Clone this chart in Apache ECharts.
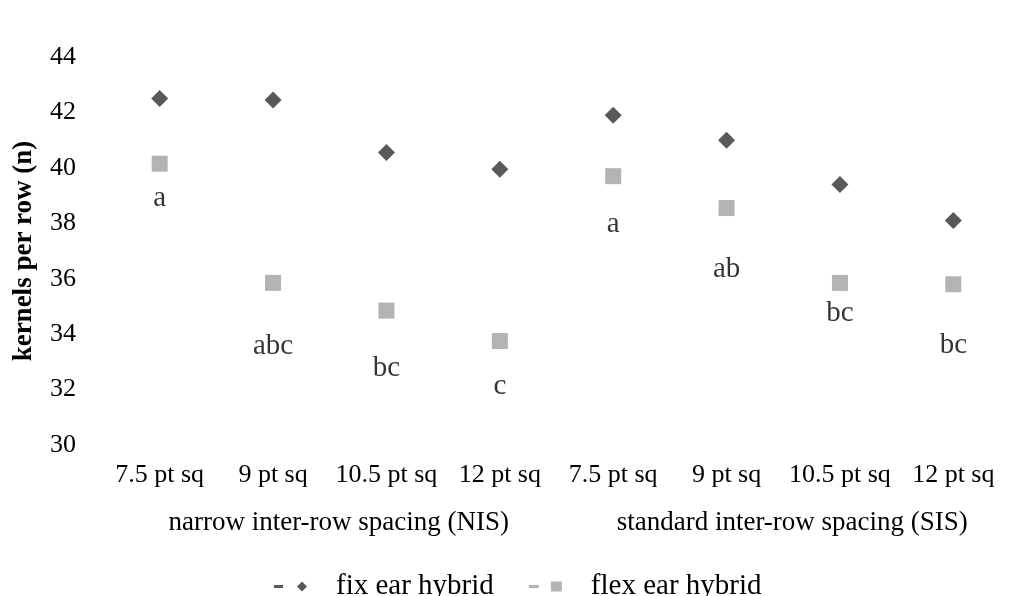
<!DOCTYPE html>
<html>
<head>
<meta charset="utf-8">
<script src="https://cdn.jsdelivr.net/npm/echarts@6/dist/echarts.min.js"></script>
<style>html,body{margin:0;padding:0;background:#fff;}#c{width:1010px;height:596px;}</style>
</head>
<body>
<div id="c"></div>
<script>
// ---- data ----
const categories = ['7.5 pt sq','9 pt sq','10.5 pt sq','12 pt sq','7.5 pt sq','9 pt sq','10.5 pt sq','12 pt sq'];
const groups = ['narrow inter-row spacing (NIS)','standard inter-row spacing (SIS)'];
const fixEar = [42.5, 42.45, 40.55, 39.95, 41.9, 41.0, 39.4, 38.1];
const flexEar = [40.15, 35.85, 34.85, 33.75, 39.7, 38.55, 35.85, 35.8];
const letters = ['a','abc','bc','c','a','ab','bc','bc'];
const letterY = [38.9, 33.55, 32.78, 32.12, 37.95, 36.35, 34.75, 33.6];
const yTicks = {min: 30, max: 44, interval: 2};

const FONT = '"Liberation Serif", "Times New Roman", serif';
const chart = echarts.init(document.getElementById('c'), null, {renderer: 'canvas'});
chart.setOption({
  animation: false,
  backgroundColor: '#ffffff',
  textStyle: {fontFamily: FONT, color: '#000'},
  grid: {left: 103, top: 57, width: 920, bottom: 151, containLabel: false},
  legend: {
    left: 269, top: 567,
    itemWidth: 33, itemHeight: 10, itemGap: 35,
    textStyle: {fontFamily: FONT, fontSize: 29, color: '#000', padding: [0, 0, 0, 24]},
    data: [
      {name: 'fix ear hybrid', icon: 'path://M0,3.5 h9 v3 h-9 Z M28,0 L33,5 L28,10 L23,5 Z', itemStyle: {color: '#595959', opacity: 1}},
      {name: 'flex ear hybrid', icon: 'path://M0,3.5 h10 v3 h-10 Z M22,0 h11 v10 h-11 Z', itemStyle: {color: '#b3b3b3', opacity: 1}}
    ]
  },
  xAxis: [
    {
      type: 'category', data: categories, position: 'bottom',
      axisLine: {show: false}, axisTick: {show: false}, splitLine: {show: false},
      axisLabel: {interval: 0, margin: 17, fontFamily: FONT, fontSize: 26, color: '#000'}
    },
    {
      type: 'category', data: groups, position: 'bottom', offset: 47,
      axisLine: {show: false}, axisTick: {show: false}, splitLine: {show: false},
      axisLabel: {interval: 0, margin: 17, padding: [0, 0, 0, 18], fontFamily: FONT, fontSize: 27, color: '#000'}
    }
  ],
  yAxis: {
    type: 'value', min: yTicks.min, max: yTicks.max, interval: yTicks.interval,
    name: 'kernels per row (n)', nameLocation: 'middle', nameGap: 65,
    nameTextStyle: {fontFamily: FONT, fontSize: 27, fontWeight: 'bold', color: '#000'},
    axisLine: {show: false}, axisTick: {show: false}, splitLine: {show: false},
    axisLabel: {margin: 27, fontFamily: FONT, fontSize: 26, color: '#000'}
  },
  series: [
    {
      name: 'fix ear hybrid', type: 'scatter', xAxisIndex: 0, data: fixEar,
      symbol: 'diamond', symbolSize: 17, itemStyle: {color: '#595959', opacity: 1}, z: 3
    },
    {
      name: 'flex ear hybrid', type: 'scatter', xAxisIndex: 0, data: flexEar,
      symbol: 'rect', symbolSize: 16, itemStyle: {color: '#b3b3b3', opacity: 1}, z: 2
    },
    {
      name: 'letters', type: 'scatter', xAxisIndex: 0, data: letterY,
      symbolSize: 1, itemStyle: {color: 'rgba(0,0,0,0)'}, silent: true,
      label: {
        show: true, position: 'inside', fontFamily: FONT, fontSize: 29, color: '#000',
        formatter: p => letters[p.dataIndex]
      }
    }
  ]
});
</script>
</body>
</html>
